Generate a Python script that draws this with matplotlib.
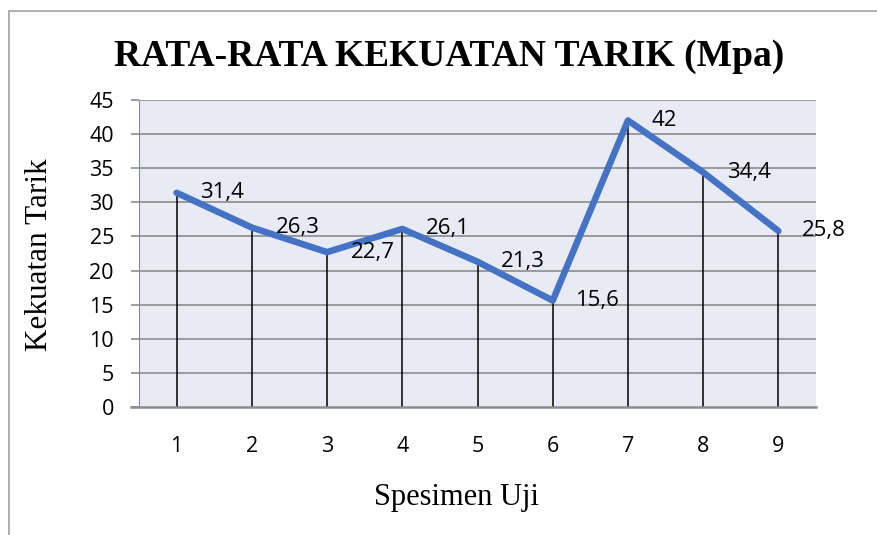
import matplotlib.pyplot as plt
from matplotlib.patches import Rectangle

specimens = [1, 2, 3, 4, 5, 6, 7, 8, 9]
strength = [31.4, 26.3, 22.7, 26.1, 21.3, 15.6, 42, 34.4, 25.8]
labels = ["31,4", "26,3", "22,7", "26,1", "21,3", "15,6", "42", "34,4", "25,8"]
yticks = [0, 5, 10, 15, 20, 25, 30, 35, 40, 45]

fig = plt.figure(figsize=(8.77, 5.35), dpi=100)
ax = fig.add_axes([139 / 877, 1 - 407 / 535, 677 / 877, 307 / 535])

# outer chart border (only top and left visible in the reference)
fig.patches.append(Rectangle((9 / 877, -0.1), 1.2, 1.1 - 11 / 535,
                             transform=fig.transFigure, fill=False,
                             edgecolor="#a0a0a0", linewidth=1.2))

ax.set_facecolor("#e8eaf4")
ax.set_xlim(0.5, 9.5)
ax.set_ylim(0, 45)
ax.set_yticks(yticks)
ax.set_xticks(specimens)

for y in yticks[1:]:
    ax.axhline(y, color="#8c8c8c", linewidth=1.2, zorder=1)

ax.vlines(specimens, 0, strength, color="black", linewidth=1.1, zorder=2)
ax.plot(specimens, strength, color="#4472c4", linewidth=4.7,
        solid_capstyle="round", solid_joinstyle="round", zorder=3)

for x, y, t in zip(specimens, strength, labels):
    ax.annotate(t, (x, y), xytext=(17, 0), textcoords="offset points",
                ha="left", va="center", fontsize=16, family="Open Sans",
                color="black", zorder=4)

for side in ["top", "right"]:
    ax.spines[side].set_visible(False)
ax.spines["left"].set_color("#8c8c8c")
ax.spines["bottom"].set_color("#8c8c8c")
ax.spines["bottom"].set_linewidth(1.8)
ax.spines["bottom"].set_bounds(0.5 - 8 / 75.2, 9.5)
ax.spines["bottom"].set_clip_on(False)

ax.tick_params(axis="y", length=6, color="#8c8c8c", width=1.2, pad=12,
               labelsize=15.5)
ax.tick_params(axis="x", length=0, pad=21, labelsize=15.5)
for lab in ax.get_xticklabels() + ax.get_yticklabels():
    lab.set_family("Open Sans")

fig.text(449 / 877, 1 - 57 / 535, "RATA-RATA KEKUATAN TARIK (Mpa)",
         ha="center", va="center", fontsize=27, fontweight="bold",
         family="Liberation Serif")
fig.text(456 / 877, 1 - 497 / 535, "Spesimen Uji", ha="center", va="center",
         fontsize=22, family="Liberation Serif")
fig.text(40 / 877, 1 - 255 / 535, "Kekuatan Tarik", ha="center", va="center",
         rotation=90, fontsize=22.5, family="Liberation Serif")

fig.savefig("out.png", dpi=100)
